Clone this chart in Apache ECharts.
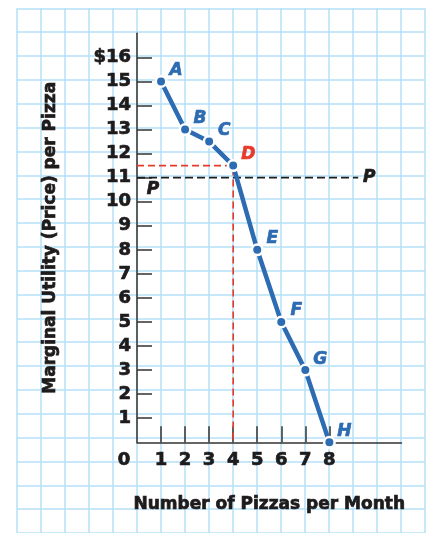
<!DOCTYPE html>
<html>
<head>
<meta charset="utf-8">
<script src="https://cdn.jsdelivr.net/npm/echarts@6/dist/echarts.min.js"></script>
<style>
  html, body { margin: 0; padding: 0; background: #ffffff; }
  #chart { width: 429px; height: 533px; }
</style>
</head>
<body>
<div id="chart"></div>
<script>
// Marginal utility schedule for pizzas
const pizzas = [1, 2, 3, 4, 5, 6, 7, 8];
const marginalUtility = [15, 13, 12.5, 11.5, 8, 5, 3, 0];
const pointNames = ['A', 'B', 'C', 'D', 'E', 'F', 'G', 'H'];
const highlightName = 'D';

// Market price line
const price = 11;
const priceLineEnd = 9.2;
const priceLabel = 'P';

// Axis ticks and their labels
const yTickValues = [1, 2, 3, 4, 5, 6, 7, 8, 9, 10, 11, 12, 13, 14, 15, 16];
const yTickLabels = ['1', '2', '3', '4', '5', '6', '7', '8', '9', '10', '11', '12', '13', '14', '15', '$16'];
const xTickValues = [0, 1, 2, 3, 4, 5, 6, 7, 8];
const xTickLabels = ['0', '1', '2', '3', '4', '5', '6', '7', '8'];

const xTitle = 'Number of Pizzas per Month';
const yTitle = 'Marginal Utility (Price) per Pizza';

const FONT = 'DejaVu Sans';
const INK = '#1e1b1c';
const AXIS = '#333333';
const BLUE = '#2d6cb3';
const RED = '#e8392b';
const PAPER = '#b3e1f6';

const hi = pointNames.indexOf(highlightName);
const hiX = pizzas[hi];
const hiY = marginalUtility[hi];

const chart = echarts.init(document.getElementById('chart'), null, { renderer: 'canvas' });

// heavy lettering: bold face plus a hairline outline in the same ink
const heavy = (color, size) => ({
  fontFamily: FONT, fontWeight: 'bold', fontSize: size, color: color,
  textBorderColor: color, textBorderWidth: 0.7
});
const tickText = heavy(INK, 18);

chart.setOption({
  animation: false,
  backgroundColor: '#ffffff',
  grid: [
    { left: 137, top: 33.3, width: 264.5, height: 409 },      // plot area
    { left: 17, top: 8.3, width: 408, height: 530.2 }         // graph-paper backdrop
  ],
  xAxis: [
    {
      gridIndex: 0, type: 'value', min: 0, max: 11, interval: 1,
      axisLine: { show: true, lineStyle: { color: AXIS, width: 1.5 } },
      axisTick: { show: true, inside: true, length: 16, customValues: xTickValues.filter(v => v > 0),
                  lineStyle: { color: AXIS, width: 1.5 } },
      axisLabel: {
        show: true, customValues: xTickValues, margin: 9, ...tickText,
        formatter: v => {
          const t = xTickLabels[xTickValues.indexOf(v)];
          return v === 0 ? '{z|' + t + '}' : t;
        },
        rich: { z: { ...tickText, padding: [0, 26, 0, 0] } }
      },
      splitLine: { show: false },
      name: xTitle, nameLocation: 'middle', nameGap: 54,
      nameTextStyle: heavy(INK, 17)
    },
    {
      gridIndex: 1, type: 'value', min: 0, max: 17, interval: 1,
      axisLine: { show: false }, axisTick: { show: false }, axisLabel: { show: false },
      splitLine: { show: true, lineStyle: { color: PAPER, width: 1.5 } }
    }
  ],
  yAxis: [
    {
      gridIndex: 0, type: 'value', min: 0, max: 17, interval: 1,
      axisLine: { show: true, lineStyle: { color: AXIS, width: 1.5 } },
      axisTick: { show: true, inside: true, length: 15, customValues: yTickValues,
                  lineStyle: { color: AXIS, width: 1.5 } },
      axisLabel: {
        show: true, customValues: yTickValues, margin: 6, ...tickText,
        formatter: v => yTickLabels[yTickValues.indexOf(v)]
      },
      splitLine: { show: false },
      name: yTitle, nameLocation: 'middle', nameGap: 78, nameRotate: 90,
      nameTextStyle: heavy(INK, 17)
    },
    {
      gridIndex: 1, type: 'value', min: 0, max: 22, interval: 1,
      axisLine: { show: false }, axisTick: { show: false }, axisLabel: { show: false },
      splitLine: { show: true, lineStyle: { color: PAPER, width: 1.5 } }
    }
  ],
  series: [
    {
      // guide lines from point D to both axes
      type: 'line', xAxisIndex: 0, yAxisIndex: 0, z: 2,
      data: [[0, hiY], [hiX, hiY], [hiX, 0]],
      showSymbol: false, symbol: 'none',
      lineStyle: { color: RED, width: 1.6, type: [7, 4] },
      silent: true
    },
    {
      // price line
      type: 'line', xAxisIndex: 0, yAxisIndex: 0, z: 2,
      data: [
        { value: [0, price], label: { offset: [16, 12] } },
        { value: [priceLineEnd, price], label: { offset: [11, 0] } }
      ],
      symbol: 'circle', symbolSize: 0, showSymbol: true,
      lineStyle: { color: '#1e1e1e', width: 1.6, type: [8, 4] },
      label: {
        show: true, position: 'inside', formatter: () => priceLabel,
        ...heavy(INK, 17), fontStyle: 'italic'
      },
      silent: true
    },
    {
      // marginal utility curve
      type: 'line', xAxisIndex: 0, yAxisIndex: 0, z: 4,
      data: pizzas.map((q, i) => {
        const item = { value: [q, marginalUtility[i]] };
        if (i === hi) item.label = { color: RED, textBorderColor: RED };
        return item;
      }),
      symbol: 'circle', symbolSize: 10.5, showSymbol: true,
      itemStyle: { color: BLUE, borderColor: '#ffffff', borderWidth: 2.5 },
      lineStyle: { color: BLUE, width: 4.5 },
      label: {
        show: true, position: 'inside', offset: [15, -11],
        formatter: p => pointNames[p.dataIndex],
        ...heavy(BLUE, 17), fontStyle: 'italic'
      },
      silent: true
    }
  ]
});
</script>
</body>
</html>
